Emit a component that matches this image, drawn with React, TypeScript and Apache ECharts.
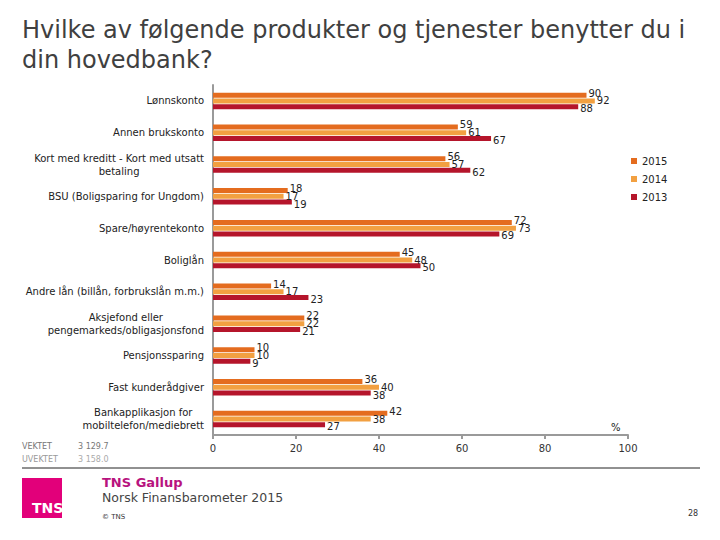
import React, { useEffect, useRef } from "react";
import * as echarts from "echarts";

const categories = [
  "Lønnskonto",
  "Annen brukskonto",
  "Kort med kreditt - Kort med utsatt\nbetaling",
  "BSU (Boligsparing for Ungdom)",
  "Spare/høyrentekonto",
  "Boliglån",
  "Andre lån (billån, forbrukslån m.m.)",
  "Aksjefond eller\npengemarkeds/obligasjonsfond",
  "Pensjonssparing",
  "Fast kunderådgiver",
  "Bankapplikasjon for\nmobiltelefon/mediebrett",
];
const values2015 = [90, 59, 56, 18, 72, 45, 14, 22, 10, 36, 42];
const values2014 = [92, 61, 57, 17, 73, 48, 17, 22, 10, 40, 38];
const values2013 = [88, 67, 62, 19, 69, 50, 23, 21, 9, 38, 27];
const seriesNames = ["2015", "2014", "2013"];
const seriesColors = ["#E46C1F", "#F2A041", "#B5152B"];
const xTicks = { min: 0, max: 100, interval: 20 };

const FONT = "DejaVu Sans";

export default function App() {
  const ref = useRef<HTMLDivElement>(null);
  useEffect(() => {
    if (!ref.current) return;
    const chart = echarts.init(ref.current, undefined, { renderer: "svg" });
    const data = [values2015, values2014, values2013];
    const labelOffsets = [[0, -2], [0, 0], [0, 2]];
    chart.setOption({
      animation: false,
      backgroundColor: "#ffffff",
      textStyle: { fontFamily: FONT },
      grid: { left: 213, right: 92, top: 85, bottom: 105, containLabel: false },
      legend: {
        orient: "vertical",
        left: 626,
        top: 151,
        itemWidth: 6,
        itemHeight: 6,
        itemGap: 8,
        icon: "rect",
        textStyle: { fontSize: 10, color: "#222", fontFamily: FONT },
        data: seriesNames,
      },
      xAxis: {
        type: "value",
        min: xTicks.min,
        max: xTicks.max,
        interval: xTicks.interval,
        axisLine: { show: true, lineStyle: { color: "#9a9a9a", width: 2 } },
        axisTick: { show: true, length: 4, lineStyle: { color: "#9a9a9a", width: 2 } },
        axisLabel: { fontSize: 10, color: "#333", margin: 8, fontFamily: FONT },
        splitLine: { show: false },
      },
      yAxis: {
        type: "category",
        inverse: true,
        data: categories,
        axisLine: { show: true, lineStyle: { color: "#9a9a9a", width: 2 } },
        axisTick: { show: false },
        axisLabel: {
          margin: 9,
          fontSize: 10,
          color: "#222",
          fontFamily: FONT,
          lineHeight: 13,
          formatter: (v: string) =>
            v
              .split("\n")
              .map((l) => `{c|${l}}`)
              .join("\n"),
          rich: { c: { align: "center", fontSize: 10, lineHeight: 13, color: "#222", fontFamily: FONT } },
        },
      },
      series: seriesNames.map((name, i) => ({
        name,
        type: "bar",
        data: data[i],
        barWidth: 5,
        barGap: "15%",
        itemStyle: { color: seriesColors[i] },
        label: {
          show: true,
          position: "right",
          distance: 2,
          offset: labelOffsets[i],
          fontSize: 10,
          color: "#222",
          fontFamily: FONT,
        },
      })),
      graphic: [
        {
          type: "text",
          left: 22,
          top: 15,
          style: {
            text: "Hvilke av følgende produkter og tjenester benytter du i\ndin hovedbank?",
            fontSize: 24,
            lineHeight: 30,
            fill: "#404040",
            fontFamily: FONT,
          },
        },
        { type: "text", left: 611, top: 422, style: { text: "%", fontSize: 10, fill: "#222", fontFamily: FONT } },
        { type: "text", left: 22, top: 442, style: { text: "VEKTET", fontSize: 8, fill: "#777", fontFamily: FONT } },
        { type: "text", left: 78, top: 442, style: { text: "3 129.7", fontSize: 8, fill: "#777", fontFamily: FONT } },
        { type: "text", left: 22, top: 455, style: { text: "UVEKTET", fontSize: 8, fill: "#999", fontFamily: FONT } },
        { type: "text", left: 78, top: 455, style: { text: "3 158.0", fontSize: 8, fill: "#aaa", fontFamily: FONT } },
        { type: "line", shape: { x1: 22, y1: 468, x2: 700, y2: 468 }, style: { stroke: "#222", lineWidth: 1 } },
        { type: "rect", shape: { x: 22, y: 478, width: 40, height: 40 }, style: { fill: "#E2007A" } },
        {
          type: "text",
          left: 32,
          top: 501,
          style: { text: "TNS", fontSize: 14, fontWeight: "bold", fill: "#ffffff", fontFamily: FONT },
        },
        {
          type: "text",
          left: 102,
          top: 476,
          style: { text: "TNS Gallup", fontSize: 13, fontWeight: "bold", fill: "#B8137E", fontFamily: FONT },
        },
        {
          type: "text",
          left: 102,
          top: 491,
          style: { text: "Norsk Finansbarometer 2015", fontSize: 12.5, fill: "#444", fontFamily: FONT },
        },
        { type: "text", left: 102, top: 513, style: { text: "© TNS", fontSize: 7, fill: "#333", fontFamily: FONT } },
        { type: "text", left: 688, top: 509, style: { text: "28", fontSize: 8, fill: "#333", fontFamily: FONT } },
      ],
    });
    return () => chart.dispose();
  }, []);
  return <div ref={ref} style={{ position: "fixed", left: 0, top: 0, width: 720, height: 540 }} />;
}
